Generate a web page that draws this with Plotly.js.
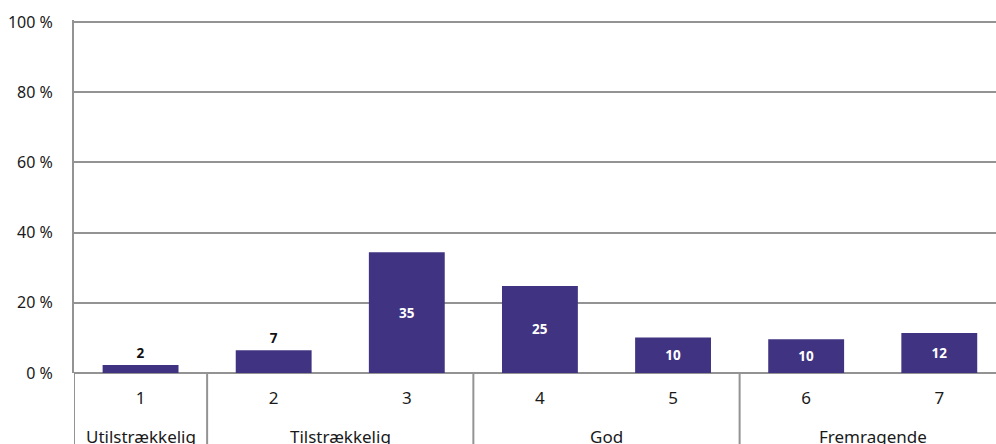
<!DOCTYPE html>
<html>
<head>
<meta charset="utf-8">
<script src="https://cdn.plot.ly/plotly-3.0.1.min.js"></script>
<style>
html,body{margin:0;padding:0;background:#fff;overflow:hidden;}
#chart{width:996px;height:444px;}
</style>
</head>
<body>
<div id="chart"></div>
<script>
const groups = ['Utilstrækkelig','Tilstrækkelig','Tilstrækkelig','God','God','Fremragende','Fremragende'];
const categories = ['1','2','3','4','5','6','7'];
const values = [2.3, 6.5, 34.4, 24.8, 10.1, 9.6, 11.4];
const labels = ['2','7','35','25','10','10','12'];
const labelPositions = ['outside','outside','inside','inside','inside','inside','inside'];
const yTicks = [0,20,40,60,80,100];
const yTickText = yTicks.map(v => v + ' %');

const font = 'Noto Sans, Open Sans, sans-serif';
const lineColor = '#939393';

const trace = {
  type: 'bar',
  x: categories,
  y: values,
  text: labels,
  textposition: labelPositions,
  insidetextanchor: 'middle',
  textangle: 0,
  constraintext: 'none',
  cliponaxis: false,
  insidetextfont: {family: font, size: 13.5, color: '#ffffff', weight: 'bold'},
  outsidetextfont: {family: font, size: 13.5, color: '#111111', weight: 'bold'},
  marker: {color: '#403482'},
  hoverinfo: 'skip'
};

// group label annotations and dividers derived from the groups array
const uniqueGroups = [];
groups.forEach((g, i) => {
  const last = uniqueGroups[uniqueGroups.length - 1];
  if (!last || last.name !== g) uniqueGroups.push({name: g, start: i, end: i});
  else last.end = i;
});

const annotations = uniqueGroups.map(g => ({
  x: (g.start + g.end) / 2,
  xref: 'x',
  y: 0,
  yref: 'paper',
  yanchor: 'top',
  yshift: -50,
  text: g.name,
  showarrow: false,
  font: {family: font, size: 17, color: '#1a1a1a'}
}));

const shapes = uniqueGroups.map(g => ({
  type: 'line',
  xref: 'x',
  x0: g.start - 0.5,
  x1: g.start - 0.5,
  yref: 'paper',
  y0: 0,
  y1: -0.3,
  line: {color: lineColor, width: 2}
}));

const layout = {
  width: 996, height: 444,
  margin: {l: 74, r: 0, t: 20, b: 71},
  paper_bgcolor: '#ffffff',
  plot_bgcolor: '#ffffff',
  bargap: 0.43,
  showlegend: false,
  font: {family: font, size: 16, color: '#1a1a1a'},
  annotations: annotations,
  shapes: shapes,
  xaxis: {
    type: 'category',
    range: [-0.5, 6.426],
    showgrid: false,
    zeroline: false,
    showline: false,
    ticks: '',
    ticklabelstandoff: 13,
    tickfont: {family: font, size: 17, color: '#1a1a1a'}
  },
  yaxis: {
    range: [0, 100.6],
    tickmode: 'array',
    tickvals: yTicks,
    ticktext: yTickText,
    showgrid: true,
    gridcolor: lineColor,
    gridwidth: 2,
    zeroline: true,
    zerolinecolor: lineColor,
    zerolinewidth: 2,
    showline: true,
    linecolor: lineColor,
    linewidth: 2,
    ticks: '',
    ticklabelstandoff: 16,
    tickfont: {family: font, size: 16, color: '#1a1a1a'}
  }
};

Plotly.newPlot('chart', [trace], layout, {displayModeBar: false, staticPlot: true});
</script>
</body>
</html>
